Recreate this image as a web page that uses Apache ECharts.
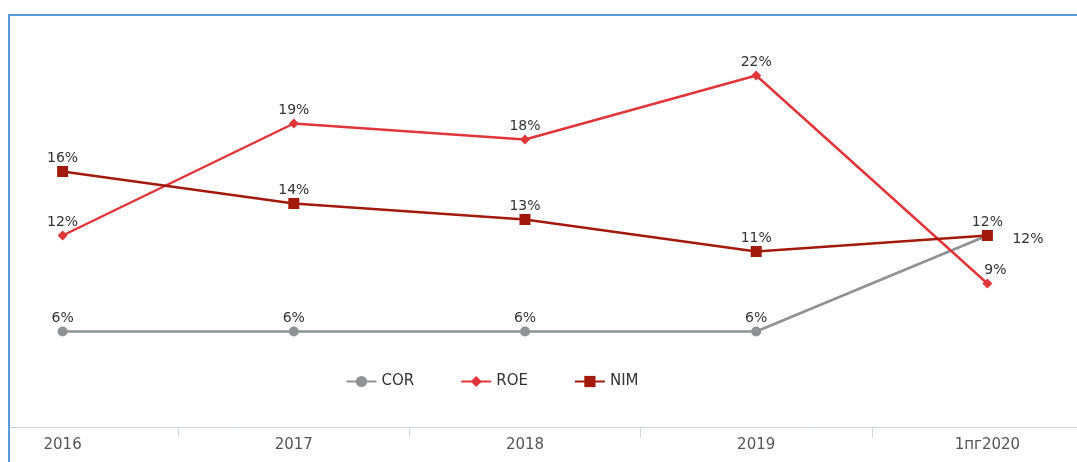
<!DOCTYPE html>
<html><head><meta charset="utf-8">
<script src="https://cdn.jsdelivr.net/npm/echarts@6/dist/echarts.min.js"></script>
<style>
html,body{margin:0;padding:0;background:#fff;width:1077px;height:462px;overflow:hidden;}
#frame{position:absolute;left:8px;top:14px;width:1077px;height:460px;border-left:2px solid #5b9bd5;border-top:2px solid #5b9bd5;}
#clip{position:absolute;left:10px;top:16px;width:1067px;height:446px;overflow:hidden;}
#chart{position:absolute;left:-63.5px;top:0;width:1156px;height:446px;}
</style></head>
<body>
<div id="frame"></div>
<div id="clip"><div id="chart"></div></div>
<script>
const categories = ['2016','2017','2018','2019','1пг2020'];
const corValues = [6, 6, 6, 6, 12];
const roeValues = [12, 19, 18, 22, 9];
const nimValues = [16, 14, 13, 11, 12];

const FONT = '"DejaVu Sans", Verdana, sans-serif';
const chart = echarts.init(document.getElementById('chart'), null, {renderer:'canvas'});
const lbl = {show:true, position:'top', distance:1, color:'#333', fontSize:14, fontFamily:FONT, formatter:p=>p.value+'%'};
function withLast(arr, extra){ return arr.map((v,i)=> i===arr.length-1 ? {value:v, label:extra} : v); }
chart.setOption({
  animation:false,
  grid:{left:0, right:0, top:11.5, bottom:34.5},
  legend:{left:393.5, top:353, itemWidth:30, itemHeight:14, itemGap:46,
    textStyle:{color:'#333', fontSize:15, fontFamily:FONT},
    data:['COR','ROE','NIM']},
  xAxis:{type:'category', data:categories, boundaryGap:true,
    axisLine:{lineStyle:{color:'#ccd6eb', width:1}},
    axisTick:{show:true, length:10, lineStyle:{color:'#ccd6eb'}},
    axisLabel:{color:'#555', fontSize:15, fontFamily:FONT, margin:10}},
  yAxis:{type:'value', min:0, max:25, show:false, splitLine:{show:false}},
  series:[
    {name:'COR', type:'line', data:withLast(corValues, {position:'right', distance:20, offset:[0,4]}), color:'#8e9294',
      symbol:'circle', symbolSize:10, lineStyle:{width:2.5}, label:lbl},
    {name:'ROE', type:'line', data:withLast(roeValues, {offset:[8,0]}), color:'#e0363a',
      symbol:'diamond', symbolSize:10, lineStyle:{width:2.5}, label:lbl},
    {name:'NIM', type:'line', data:nimValues, color:'#a3190c',
      symbol:'rect', symbolSize:11, lineStyle:{width:2.5}, label:lbl}
  ]
});
</script>
</body></html>
